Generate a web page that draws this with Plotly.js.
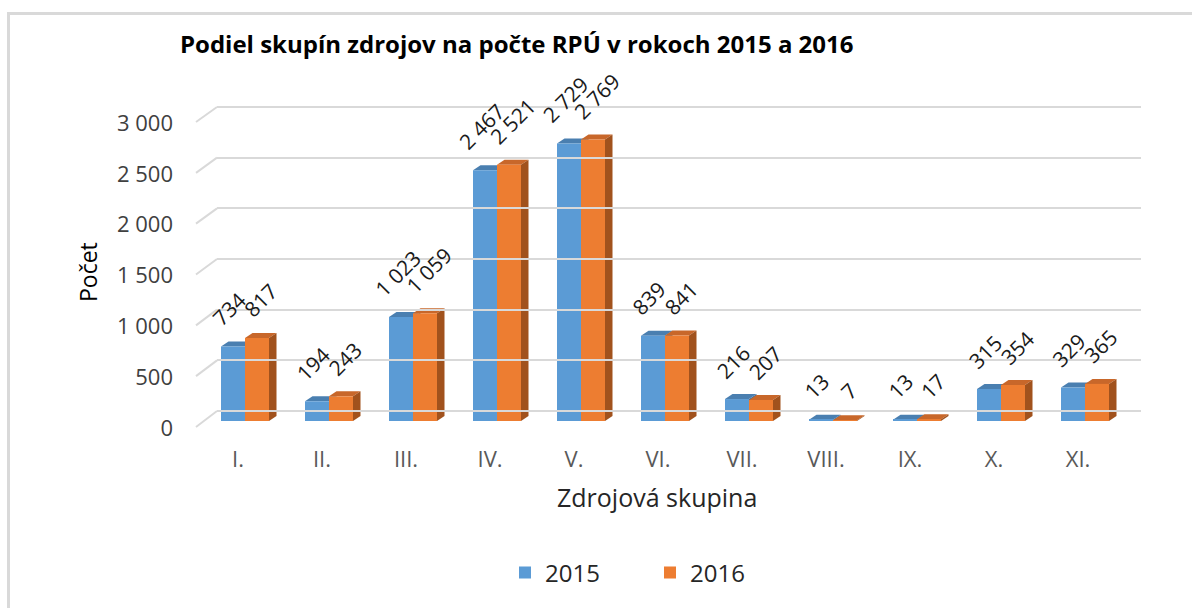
<!DOCTYPE html>
<html>
<head>
<meta charset="utf-8">
<script src="https://cdn.plot.ly/plotly-3.0.1.min.js"></script>
<style>
html,body{margin:0;padding:0;background:#fff;}
#wrap{position:relative;width:1192px;height:608px;overflow:hidden;}
#chart{width:1192px;height:608px;}
#frame{position:absolute;left:7px;top:12px;width:1300px;height:700px;border-left:3px solid #d9d9d9;border-top:3px solid #d9d9d9;pointer-events:none;}
</style>
</head>
<body>
<div id="wrap"><div id="chart"></div><div id="frame"></div></div>
<script>
const categories = ['I.','II.','III.','IV.','V.','VI.','VII.','VIII.','IX.','X.','XI.'];
const values2015 = [734,194,1023,2467,2729,839,216,13,13,315,329];
const values2016 = [817,243,1059,2521,2769,841,207,7,17,354,365];
const seriesNames = ['2015','2016'];
const yTicks = [0,500,1000,1500,2000,2500,3000];
const yTickText = ['0','500','1 000','1 500','2 000','2 500','3 000'];

const W = 1192, H = 608;
const L = 196, R = 51, T = 100, B = 178;
const PW = W - L - R, PH = H - T - B;
const px2pxX = p => (p - L) / PW;
const px2pyY = p => (H - B - p) / PH;

const yMax = 3000;
const xRange = [-0.5, categories.length - 0.5];
const xDom = [px2pxX(203), px2pxX(1127)];
const yDom = [px2pyY(421), px2pyY(116)];
// grid (back wall) axis: 0 at 411px, 3000 at 107px, padded so the end lines are drawn
const gPad = 30;
const gScale = (411 - 107) / yMax;
const x2Dom = [px2pxX(217), 1];
const y2Dom = [px2pyY(411 + gPad * gScale), px2pyY(107 - gPad * gScale)];

const bargap = 0.4286;
const bw = (1 - bargap) / 2;
const unitPx = (xDom[1]-xDom[0]) * PW / categories.length;
const barPx = bw * unitPx;
const dx = 7.5 / unitPx;
const dy = 5 / (((yDom[1]-yDom[0]) * PH) / yMax);

const blue = '#5b9bd5', orange = '#ed7d31';
const blueTop = '#4a7fb0', blueSide = '#3f6e9b', orangeTop = '#c8672a', orangeSide = '#a1521d';

const FONT = 'Open Sans, sans-serif';
const labelFont = {family: FONT, size: 21, color: '#1a1a1a'};

const traces = [
  {type:'bar', name:seriesNames[0], x:categories, y:values2015, marker:{color:blue},
   cliponaxis:false, hoverinfo:'x+y+name'},
  {type:'bar', name:seriesNames[1], x:categories, y:values2016, marker:{color:orange},
   cliponaxis:false, hoverinfo:'x+y+name'},
  {type:'bar', x:categories, y:values2016, xaxis:'x2', yaxis:'y2', opacity:0,
   showlegend:false, hoverinfo:'skip', marker:{color:'rgba(0,0,0,0)'}}
];

function poly(pts){ return 'M' + pts.map(p => p[0] + ',' + p[1]).join(' L') + ' Z'; }
function fmt(v){ return String(v).replace(/\B(?=(\d{3})+(?!\d))/g, ' '); }

const shapes = [];
// depth lines of the gridlines on the left wall
yTicks.forEach(v => {
  const fy = yDom[0] + (v / yMax) * (yDom[1]-yDom[0]) - 6 / PH;
  const by = px2pyY(411 - v * gScale);
  shapes.push({type:'line', xref:'paper', yref:'paper', x0:px2pxX(L), y0:fy, x1:x2Dom[0], y1:by,
    line:{color:'#d9d9d9', width:2}, layer:'below'});
});
// 3D faces of the bars
categories.forEach((c, i) => {
  const vb = values2015[i], vo = values2016[i];
  shapes.push({type:'path', xref:'x', yref:'y', layer:'between', line:{width:0}, fillcolor:blueSide,
    path: poly([[i,0],[i,vb],[i+dx,vb+dy],[i+dx,dy]])});
  shapes.push({type:'path', xref:'x', yref:'y', layer:'between', line:{width:0}, fillcolor:blueTop,
    path: poly([[i-bw,vb],[i,vb],[i+dx,vb+dy],[i-bw+dx,vb+dy]])});
  shapes.push({type:'path', xref:'x', yref:'y', layer:'between', line:{width:0}, fillcolor:orangeTop,
    path: poly([[i,vo],[i+bw,vo],[i+bw+dx,vo+dy],[i+dx,vo+dy]])});
  shapes.push({type:'path', xref:'x', yref:'y', layer:'between', line:{width:0}, fillcolor:orangeSide,
    path: poly([[i+bw,0],[i+bw,vo],[i+bw+dx,vo+dy],[i+bw+dx,dy]])});
});

// rotated data labels above each bar
const dataLabels = [];
categories.forEach((c, i) => {
  dataLabels.push({x:c, y:values2015[i], xref:'x', yref:'y', text:fmt(values2015[i]),
    textangle:-45, showarrow:false, xanchor:'center', yanchor:'bottom',
    xshift:-barPx / 2 - 4, yshift:12, font:labelFont});
  dataLabels.push({x:c, y:values2016[i], xref:'x', yref:'y', text:fmt(values2016[i]),
    textangle:-45, showarrow:false, xanchor:'center', yanchor:'bottom',
    xshift:barPx / 2 + 4, yshift:12, font:labelFont});
});

const layout = {
  width: W, height: H,
  margin: {l:L, r:R, t:T, b:B, pad:0},
  paper_bgcolor:'#fff', plot_bgcolor:'rgba(0,0,0,0)',
  separators: ', ',
  font: {family:FONT, color:'#404040'},
  title: {text:'Podiel skupín zdrojov na počte RPÚ v rokoch 2015 a 2016',
    font:{family:FONT, size:24, color:'#000', weight:700},
    x:180/W, xanchor:'left', xref:'container', y:1-45/H, yanchor:'middle', yref:'container'},
  barmode:'group', bargap:bargap, bargroupgap:0,
  xaxis: {domain:xDom, anchor:'y', type:'category', range:xRange, autorange:false,
    showgrid:false, zeroline:false, showline:false,
    ticks:'', tickfont:{size:22, color:'#595959'}, ticklabelstandoff:23, ticklabelshift:-7,
    fixedrange:true},
  yaxis: {domain:yDom, anchor:'x', range:[0,yMax], autorange:false, showgrid:false, zeroline:false,
    showline:false, tickvals:yTicks, ticktext:yTickText, ticks:'', tickfont:{size:22, color:'#404040'},
    ticklabelstandoff:29, ticklabelshift:7, fixedrange:true},
  xaxis2: {domain:x2Dom, anchor:'y2', type:'category', range:xRange, autorange:false,
    showgrid:false, zeroline:false, showline:false, showticklabels:false, ticks:'', fixedrange:true},
  yaxis2: {domain:y2Dom, anchor:'x2', range:[-gPad, yMax + gPad], autorange:false, tickvals:yTicks,
    showgrid:true, gridcolor:'#d9d9d9', gridwidth:2, zeroline:false, showline:false,
    showticklabels:false, ticks:'', fixedrange:true},
  shapes: shapes,
  showlegend: true,
  legend: {orientation:'h', xref:'container', yref:'container', x:505/W, xanchor:'left',
    y:1-573/H, yanchor:'middle', font:{size:24, color:'#262626'}, itemwidth:30,
    entrywidth:100, traceorder:'normal'},
  annotations: dataLabels.concat([
    {text:'Počet', xref:'paper', yref:'paper', x:px2pxX(88), y:px2pyY(272), textangle:-90,
     showarrow:false, xanchor:'center', yanchor:'middle', font:{family:FONT, size:23, color:'#000'}},
    {text:'Zdrojová skupina', xref:'paper', yref:'paper', x:px2pxX(657), y:px2pyY(497),
     showarrow:false, xanchor:'center', yanchor:'middle', font:{family:FONT, size:25, color:'#262626'}}
  ])
};

Plotly.newPlot('chart', traces, layout, {displayModeBar:false});
</script>
</body>
</html>
